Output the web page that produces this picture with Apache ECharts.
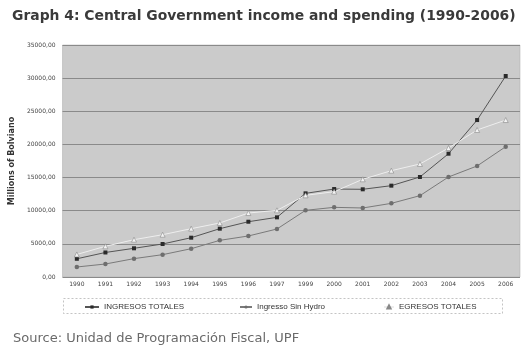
<!DOCTYPE html>
<html><head><meta charset="utf-8">
<script src="https://cdn.jsdelivr.net/npm/echarts@6/dist/echarts.min.js"></script>
<style>html,body{margin:0;padding:0;background:#fff}#c{width:529px;height:346px}</style>
</head><body><div id="c"></div>
<script>
const categories = ['1990','1991','1992','1993','1994','1995','1996','1997','1999','2000','2001','2002','2003','2004','2005','2006'];
const ingresosTotales = [2750,3700,4330,4980,5930,7290,8340,9000,12620,13270,13230,13780,15090,18600,23680,30320];
const ingresoSinHydro = [1510,1960,2770,3370,4270,5530,6190,7240,10060,10510,10410,11110,12270,15090,16750,19660];
const egresosTotales = [3400,4630,5630,6380,7290,8150,9650,10060,12320,12870,14740,16040,17050,19460,22180,23680];
const yTicks = [0,5000,10000,15000,20000,25000,30000,35000];

const chart = echarts.init(document.getElementById('c'), null, {renderer:'canvas'});
const legendText = {fontSize:8, color:'#333', fontFamily:'Liberation Sans'};
chart.setOption({
  animation:false,
  backgroundColor:'#fff',
  title:[{
    text:'Graph 4: Central Government income and spending (1990-2006)',
    left:7, top:4,
    textStyle:{fontSize:13.9, fontWeight:'bold', color:'#3a3a3a', fontFamily:'DejaVu Sans'}
  },{
    text:'Source: Unidad de Programación Fiscal, UPF',
    left:8, top:327,
    textStyle:{fontSize:13, fontWeight:'normal', color:'#6a6a6a', fontFamily:'DejaVu Sans'}
  }],
  grid:{left:60, right:9, top:45, bottom:69, show:true, backgroundColor:'#cbcbcb', borderColor:'#aaa', borderWidth:0.5},
  xAxis:{
    type:'category', data:categories, boundaryGap:true,
    axisLine:{show:false}, axisTick:{show:false},
    axisLabel:{fontSize:6, color:'#444', margin:4, fontFamily:'DejaVu Sans'}
  },
  yAxis:{
    type:'value', min:0, max:35000, interval:5000,
    name:'Millions of Bolviano', nameLocation:'middle', nameGap:39, nameRotate:90,
    nameTextStyle:{fontSize:8, fontWeight:'bold', color:'#333', fontFamily:'DejaVu Sans'},
    axisLine:{show:false}, axisTick:{show:false},
    axisLabel:{fontSize:6, color:'#444', margin:7, fontFamily:'DejaVu Sans',
      formatter:v=>v.toFixed(2).replace('.',',')},
    splitLine:{lineStyle:{color:'#8a8a8a', width:1}}
  },
  legend:[
    {data:['INGRESOS TOTALES'], left:79, top:298, itemWidth:14, itemHeight:4, textStyle:legendText},
    {data:['Ingresso Sin Hydro'], left:234, top:298, itemWidth:12, itemHeight:4, textStyle:legendText},
    {data:['EGRESOS TOTALES'], left:378, top:298, itemWidth:10, itemHeight:4, textStyle:legendText}
  ],
  graphic:[{type:'rect', shape:{x:63.5, y:298.5, width:439, height:15},
    style:{fill:'none', stroke:'#aaa', lineWidth:0.7, lineDash:[2,2]}, silent:true}],
  series:[
    {name:'INGRESOS TOTALES', type:'line', data:ingresosTotales, symbol:'rect', symbolSize:4,
      lineStyle:{color:'#555', width:1}, itemStyle:{color:'#2a2a2a'}},
    {name:'Ingresso Sin Hydro', type:'line', data:ingresoSinHydro, symbol:'circle', symbolSize:4.5,
      lineStyle:{color:'#7a7a7a', width:1}, itemStyle:{color:'#6e6e6e'}},
    {name:'EGRESOS TOTALES', type:'line', data:egresosTotales, symbol:'triangle', symbolSize:5,
      lineStyle:{color:'#eeeeee', width:1}, itemStyle:{color:'#f4f4f4', borderColor:'#888', borderWidth:0.6}}
  ]
});
</script></body></html>
